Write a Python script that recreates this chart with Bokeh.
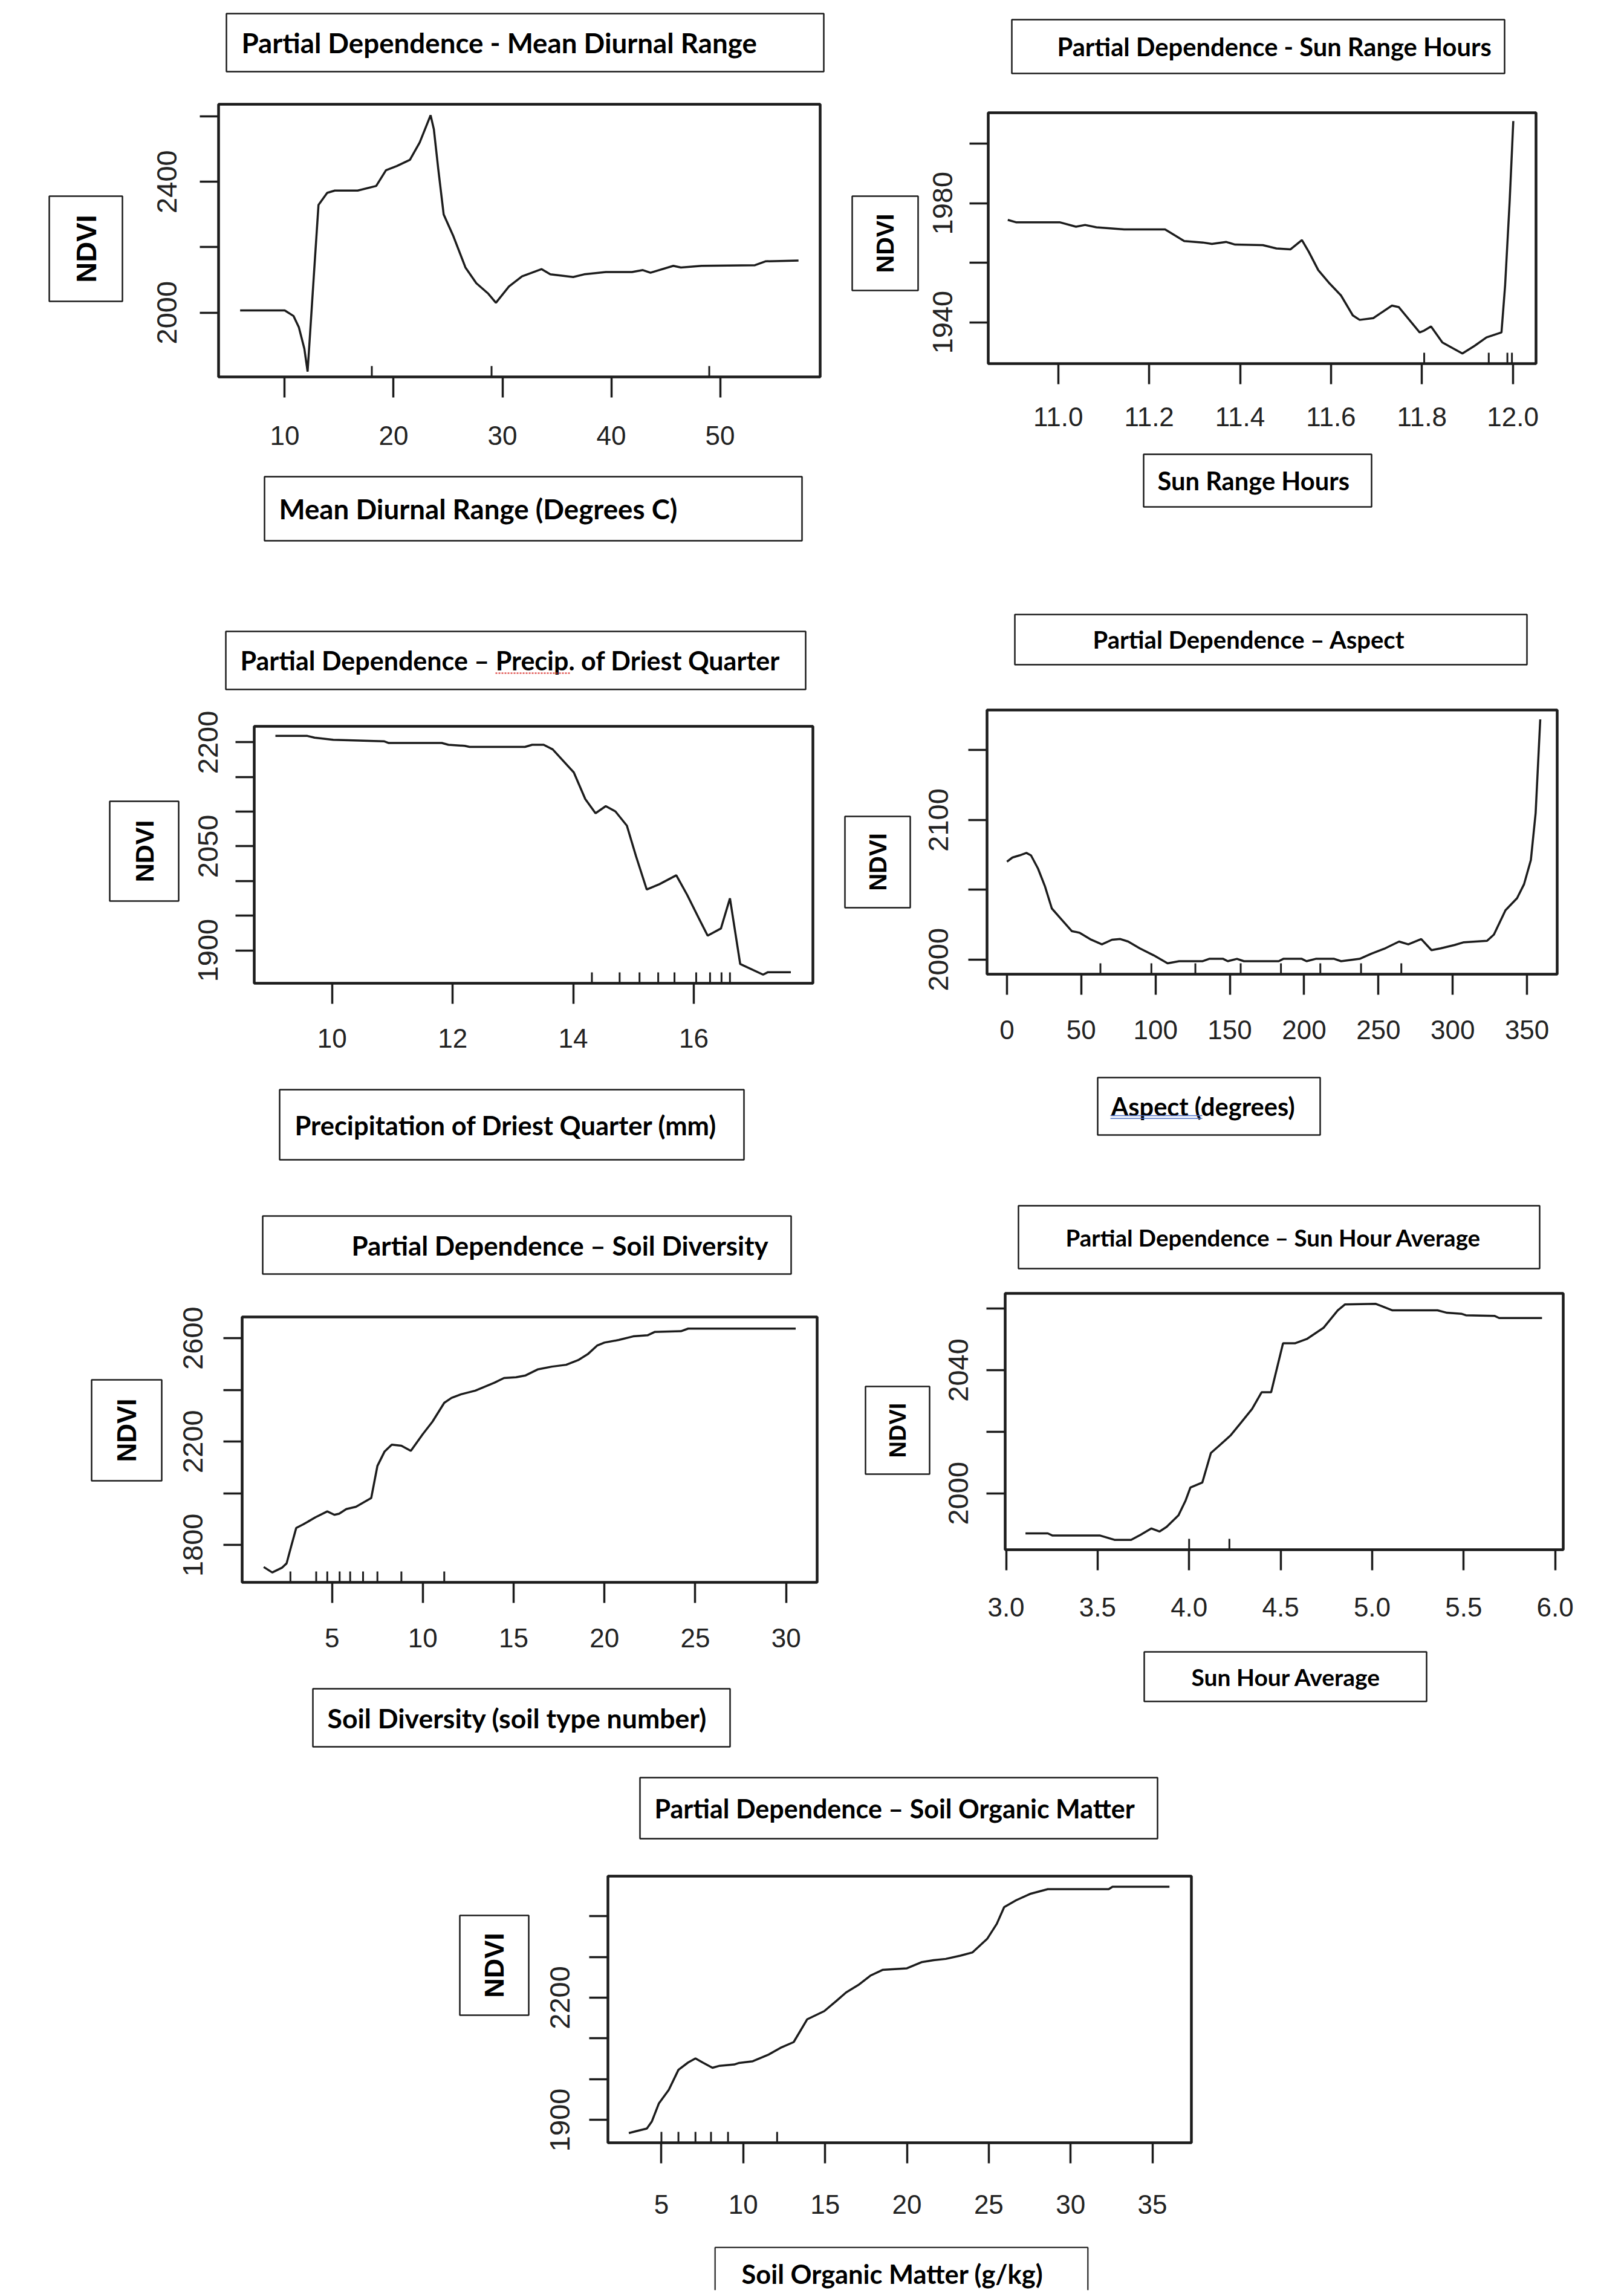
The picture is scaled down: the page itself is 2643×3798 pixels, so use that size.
import math
from bokeh.plotting import figure
from bokeh.models import Range1d, FixedTicker, Spacer, NumeralTickFormatter
from bokeh.layouts import column, row
from bokeh.embed import file_html
from bokeh.resources import INLINE
from bokeh.core.properties import value

# ---------------- data ----------------
# Panel 1: Mean Diurnal Range
mdr_x = [5.9, 10.0, 10.8, 11.3, 11.8, 12.1, 12.7, 13.1, 13.9, 14.6, 16.7, 18.4, 19.3, 20.3,
         21.5, 22.4, 23.4, 23.7, 24.1, 24.6, 25.5, 26.6, 27.6, 28.7, 29.4, 30.6, 31.8,
         33.6, 34.4, 36.5, 37.5, 39.5, 41.9, 42.9, 43.6, 45.7, 46.4, 48.3, 53.2, 54.2, 57.2]
mdr_y = [2007, 2007, 1990, 1955, 1890, 1820, 2127, 2329, 2366, 2373, 2373, 2387, 2435, 2448,
         2467, 2520, 2603, 2560, 2440, 2300, 2233, 2138, 2090, 2058, 2030, 2080, 2111,
         2133, 2117, 2109, 2117, 2124, 2124, 2130, 2122, 2143, 2138, 2143, 2145, 2157, 2159]
mdr_rug = [18.0, 29.0, 49.0]

# Panel 2: Sun Range Hours
srh_x = [10.889, 10.907, 11.003, 11.039, 11.059, 11.084, 11.145, 11.235, 11.252, 11.277,
         11.318, 11.338, 11.369, 11.389, 11.450, 11.480, 11.511, 11.536, 11.551, 11.572,
         11.597, 11.622, 11.648, 11.663, 11.693, 11.734, 11.749, 11.795, 11.805, 11.820,
         11.845, 11.889, 11.916, 11.942, 11.975, 11.983, 11.993, 12.001]
srh_y = [1974.4, 1973.6, 1973.6, 1972.1, 1972.7, 1971.9, 1971.2, 1971.2, 1969.6, 1967.3,
         1966.8, 1966.3, 1967.0, 1966.1, 1965.9, 1964.8, 1964.5, 1967.6, 1963.7, 1957.5,
         1953.0, 1949.0, 1942.3, 1940.8, 1941.4, 1945.6, 1945.1, 1936.6, 1937.2, 1938.6,
         1933.2, 1929.5, 1932.1, 1934.9, 1936.6, 1952.4, 1980.6, 2007.6]
srh_rug = [11.805, 11.947, 11.988, 11.998]

# Panel 3: Precipitation of Driest Quarter
pdq_x = [9.06, 9.59, 9.71, 10.02, 10.86, 10.94, 11.82, 11.93, 12.20, 12.28, 13.20, 13.32,
         13.51, 13.66, 14.01, 14.20, 14.37, 14.54, 14.70, 14.89, 15.04, 15.22, 15.43, 15.71,
         15.89, 16.08, 16.23, 16.45, 16.60, 16.77, 17.15, 17.23, 17.61]
pdq_y = [2209.2, 2209.2, 2206.6, 2203.6, 2201.5, 2199.0, 2199.0, 2196.4, 2194.9, 2193.4,
         2193.4, 2196.4, 2196.4, 2189.8, 2156.5, 2118.2, 2097.7, 2107.9, 2100.3, 2079.8,
         2036.3, 1987.7, 1995.4, 2008.2, 1980.0, 1946.8, 1921.2, 1931.5, 1974.9, 1880.3,
         1864.9, 1868.5, 1868.5]
pdq_rug = [14.31, 14.77, 15.10, 15.41, 15.68, 16.04, 16.27, 16.46, 16.60]

# Panel 4: Aspect
asp_x = [0, 3.7, 8.4, 13.1, 16.2, 20.9, 25.5, 30.2, 36.4, 43.6, 48.9, 56.7, 63.9, 70.7,
         76.3, 81.6, 89.4, 98.8, 108.1, 115.9, 131.5, 136.1, 145.5, 148.6, 154.8, 159.5,
         182.9, 186.0, 198.4, 201.6, 207.8, 220.2, 224.9, 237.4, 245.2, 254.5, 263.9,
         270.1, 278.8, 285.7, 291.9, 301.2, 307.5, 323.1, 327.7, 335.5, 343.3, 348.0,
         352.6, 355.8, 358.9]
asp_y = [2070.1, 2073.1, 2074.6, 2076.4, 2074.6, 2065.2, 2052.7, 2036.6, 2029.1, 2020.4,
         2019.2, 2014.2, 2010.9, 2014.2, 2014.7, 2012.9, 2008.0, 2003.0, 1997.3, 1998.8,
         1998.8, 2000.5, 2000.5, 1998.8, 2000.5, 1998.8, 1998.8, 2000.5, 2000.5, 1998.8,
         2000.5, 2000.5, 1998.8, 2000.5, 2004.2, 2008.0, 2012.9, 2010.9, 2014.7, 2006.7,
         2008.0, 2010.4, 2012.4, 2013.4, 2017.9, 2035.3, 2044.0, 2054.0, 2071.4, 2105.0,
         2172.1]
asp_rug = [62.9, 97.2, 126.8, 157.3, 184.4, 210.9, 238.3, 265.4]

# Panel 5: Soil Diversity
sdv_x = [1.24, 1.71, 2.24, 2.50, 2.76, 3.03, 3.42, 4.08, 4.74, 5.13, 5.39, 5.79, 6.32, 6.84,
         7.16, 7.50, 7.89, 8.29, 8.82, 9.34, 10.0, 10.53, 11.18, 11.58, 12.11, 12.89, 13.95,
         14.47, 15.13, 15.66, 16.32, 17.11, 17.89, 18.55, 19.08, 19.61, 20.0, 20.79, 21.58,
         22.37, 22.76, 24.21, 24.61, 30.53]
sdv_y = [1715, 1694, 1712, 1729, 1797, 1866, 1880, 1907, 1930, 1917, 1921, 1939, 1948, 1969,
         1982, 2106, 2161, 2188, 2184, 2164, 2229, 2277, 2350, 2369, 2383, 2397, 2428,
         2446, 2449, 2456, 2479, 2490, 2497, 2515, 2538, 2572, 2583, 2593, 2607,
         2611, 2624, 2627, 2637, 2637]
sdv_rug = [2.71, 4.13, 4.74, 5.42, 6.0, 6.71, 7.5, 8.82, 11.18]

# Panel 6: Sun Hour Average
sha_x = [3.106, 3.228, 3.254, 3.514, 3.592, 3.683, 3.734, 3.794, 3.838, 3.877, 3.942, 3.981,
         4.007, 4.072, 4.119, 4.163, 4.228, 4.280, 4.344, 4.396, 4.448, 4.513, 4.578, 4.643,
         4.734, 4.812, 4.851, 5.020, 5.111, 5.357, 5.409, 5.487, 5.512, 5.668, 5.694, 5.928]
sha_y = [1987.0, 1987.0, 1986.3, 1986.3, 1984.9, 1984.9, 1986.5, 1988.6, 1987.6, 1989.1,
         1992.9, 1997.7, 2001.9, 2003.5, 2013.1, 2015.4, 2018.9, 2022.7, 2027.4, 2032.8,
         2032.8, 2048.7, 2048.7, 2050.1, 2053.7, 2059.4, 2061.3, 2061.5, 2059.4, 2059.4,
         2058.6, 2058.3, 2057.8, 2057.6, 2056.9, 2056.9]
sha_rug = [4.0, 4.22]

# Panel 7: Soil Organic Matter
som_x = [3.01, 3.51, 4.11, 4.41, 4.85, 5.45, 6.04, 6.63, 7.08, 7.52, 8.12, 8.56, 9.45, 9.75,
         10.58, 11.53, 12.28, 13.08, 13.91, 14.95, 15.69, 16.29, 17.03, 17.77, 18.51, 20.0,
         20.89, 21.63, 22.37, 23.27, 24.01, 24.90, 25.49, 25.94, 26.68, 27.57, 28.61, 32.33,
         32.56, 36.04]
som_y = [1868, 1873, 1879, 1896, 1941, 1974, 2023, 2041, 2051, 2041, 2028, 2033, 2036, 2040,
         2044, 2060, 2077, 2091, 2147, 2167, 2192, 2213, 2231, 2254, 2268, 2272, 2287, 2292,
         2295, 2303, 2311, 2344, 2381, 2422, 2439, 2455, 2466, 2466, 2472, 2472]
som_rug = [5.0, 6.04, 7.08, 8.03, 9.07, 12.07]

# tick values and which y ticks carry a label
mdr_xticks = [10, 20, 30, 40, 50]
mdr_yticks = [2000, 2200, 2400, 2600]
mdr_ylab = [2000, 2400]
srh_xticks = [11.0, 11.2, 11.4, 11.6, 11.8, 12.0]
srh_yticks = [1940, 1960, 1980, 2000]
srh_ylab = [1940, 1980]
pdq_xticks = [10, 12, 14, 16]
pdq_yticks = [1900, 1950, 2000, 2050, 2100, 2150, 2200]
pdq_ylab = [1900, 2050, 2200]
asp_xticks = [0, 50, 100, 150, 200, 250, 300, 350]
asp_yticks = [2000, 2050, 2100, 2150]
asp_ylab = [2000, 2100]
sdv_xticks = [5, 10, 15, 20, 25, 30]
sdv_yticks = [1800, 2000, 2200, 2400, 2600]
sdv_ylab = [1800, 2200, 2600]
sha_xticks = [3.0, 3.5, 4.0, 4.5, 5.0, 5.5, 6.0]
sha_yticks = [2000, 2020, 2040, 2060]
sha_ylab = [2000, 2040]
som_xticks = [5, 10, 15, 20, 25, 30, 35]
som_yticks = [1900, 2000, 2100, 2200, 2300, 2400]
som_ylab = [1900, 2200]

titles = ["Partial Dependence - Mean Diurnal Range",
          "Partial Dependence - Sun Range Hours",
          "Partial Dependence \u2013 Precip. of Driest Quarter",
          "Partial Dependence \u2013 Aspect",
          "Partial Dependence \u2013 Soil Diversity",
          "Partial Dependence \u2013 Sun Hour Average",
          "Partial Dependence \u2013 Soil Organic Matter"]
xlabels = ["Mean Diurnal Range (Degrees C)",
           "Sun Range Hours",
           "Precipitation of Driest Quarter (mm)",
           "Aspect  (degrees)",
           "Soil Diversity (soil type number)",
           "Sun Hour Average",
           "Soil Organic Matter (g/kg)"]
ylabel = "NDVI"

# ---------------- style / layout ----------------
INK = "#1c1c1c"
LABEL_FONT = "Lato"
TICK_FONT = "Liberation Sans"
NDVI_FONT = "Liberation Sans"
M = 2  # margin around each boxed text so its border is fully visible


def box_fig(box, items, deco=(), open_bottom=False):
    L, T, R, B = box
    w, h = int(R - L), int(B - T)
    p = figure(width=w + 2 * M, height=h + 2 * M, x_range=Range1d(0, w), y_range=Range1d(0, h),
               min_border_left=M, min_border_right=M, min_border_top=M, min_border_bottom=M,
               x_axis_type=None, y_axis_type=None, toolbar_location=None, output_backend="svg")
    p.background_fill_color = "white"
    p.border_fill_color = "white"
    if open_bottom:
        p.outline_line_color = None
        e = 1.0
        p.segment(x0=[e, e, w - e], y0=[0, h - e, 0], x1=[e, w - e, w - e], y1=[h - e, h - e, h - e],
                  line_color=INK, line_width=2.5)
    else:
        p.outline_line_color = INK
        p.outline_line_width = 2.5
        p.outline_line_alpha = 1.0
    for (tx, ty, s, font, fs, align, angle) in items:
        p.text(x=[tx], y=[ty], text=[s], text_font=value(font),
               text_font_size=value(f"{fs}px"), text_font_style=value("bold"),
               text_align=value(align), text_baseline=value("middle"),
               text_color="black", angle=angle)
    for (x0, x1, yy, color, dash, lw) in deco:
        p.segment(x0=[x0], y0=[yy], x1=[x1], y1=[yy], line_color=color, line_width=lw,
                  line_dash=dash)
    return p, (L - M, T - M, R + M, B + M)


def plot_fig(cfg, x, y, rug, xticks, yticks, ylab):
    fL, fT, fR, fB = cfg["frame"]
    cL, cT, cR, cB = cfg["canvas"]
    p = figure(width=cR - cL, height=cB - cT,
               x_range=Range1d(*cfg["xr"]), y_range=Range1d(*cfg["yr"]),
               output_backend="svg", toolbar_location=None,
               min_border_left=fL - cL, min_border_right=cR - fR,
               min_border_top=fT - cT, min_border_bottom=cB - fB)
    p.xgrid.visible = False
    p.ygrid.visible = False
    p.outline_line_color = INK
    p.outline_line_width = 4.5
    p.outline_line_alpha = 1.0
    p.background_fill_color = "white"
    p.border_fill_color = "white"
    for ax, ticks, tick_out, stand, fs in ((p.xaxis[0], xticks, 34, cfg["xstand"], 44),
                                           (p.yaxis[0], yticks, 31, cfg["ystand"], 47)):
        ax.ticker = FixedTicker(ticks=ticks)
        ax.axis_line_color = None
        ax.major_tick_out = tick_out
        ax.major_tick_in = 0
        ax.minor_tick_out = 0
        ax.minor_tick_in = 0
        ax.major_tick_line_width = 3.5
        ax.major_tick_line_color = INK
        ax.major_label_text_font = TICK_FONT
        ax.major_label_text_font_size = f"{fs}px"
        ax.major_label_text_color = "#222222"
        ax.major_label_standoff = stand
    p.yaxis[0].major_label_orientation = "vertical"
    p.yaxis[0].major_label_overrides = {t: "" for t in yticks if t not in ylab}
    if cfg.get("xfmt"):
        p.xaxis[0].formatter = NumeralTickFormatter(format=cfg["xfmt"])
    p.line(x, y, line_color=INK, line_width=3.5)
    y0, y1 = cfg["yr"]
    rl = 18 * (y1 - y0) / (fB - fT)
    p.segment(x0=rug, y0=[y0] * len(rug), x1=rug, y1=[y0 + rl] * len(rug),
              line_color=INK, line_width=3)
    return p


def sp(w, h):
    return Spacer(width=max(0, int(w)), height=max(0, int(h)))


def build_cell(cfg, series, title, xlabel):
    cx0, cy0, cx1, cy1 = cfg["cell"]
    th = cfg["tbox"][3] - cfg["tbox"][1]
    tfig, (tl, tt, tr, tb) = box_fig(cfg["tbox"], [(cfg["tpad"], th / 2, title, LABEL_FONT,
                                                    cfg["tfs"], "left", 0)],
                                     cfg.get("tdeco", ()))
    nL, nT, nR, nB = cfg["nbox"]
    nfig, (nl, nt, nr, nb) = box_fig(cfg["nbox"], [((nR - nL) / 2, (nB - nT) / 2, ylabel,
                                                    NDVI_FONT, cfg["nfs"], "center", math.pi / 2)])
    xh = cfg["xbox"][3] - cfg["xbox"][1]
    xfig, (xl, xt, xr, xb) = box_fig(cfg["xbox"], [(cfg["xpad"], xh - cfg.get("xtop", xh / 2),
                                                    xlabel, LABEL_FONT, cfg["xfs"], "left", 0)],
                                     cfg.get("xdeco", ()), cfg.get("open_bottom", False))
    pfig = plot_fig(cfg, *series)
    cL, cT, cR, cB = cfg["canvas"]
    W = cx1 - cx0
    kids = [sp(W, tt - cy0),
            row(sp(tl - cx0, 1), tfig),
            sp(1, cT - tb),
            row(sp(nl - cx0, 1), column(sp(1, nt - cT), nfig), sp(cL - nr, 1), pfig),
            sp(1, xt - cB),
            row(sp(xl - cx0, 1), xfig)]
    if cy1 - xb > 0:
        kids.append(sp(1, cy1 - xb))
    return column(*kids)


cfgs = [
    dict(cell=(0, 0, 1390, 980), tbox=(374, 22, 1362, 118), nbox=(81, 324, 202, 498),
         xbox=(437, 788, 1326, 894), frame=(361, 172, 1356, 623), canvas=(210, 122, 1385, 784),
         xr=(3.92, 59.19), yr=(1803.7, 2636.6), xstand=47, ystand=38,
         tpad=25, tfs=45.7, nfs=47, xpad=24, xfs=45.7),
    dict(cell=(1390, 0, 2627, 980), tbox=(1673, 32, 2488, 121), nbox=(1409, 324, 1518, 480),
         xbox=(1891, 751, 2268, 838), frame=(1634, 186, 2540, 601), canvas=(1520, 125, 2600, 747),
         xr=(10.846, 12.051), yr=(1926.1, 2010.4), xstand=38, ystand=28, xfmt="0.0",
         tpad=75, tfs=41.7, nfs=41, xpad=23, xfs=41.7),
    dict(cell=(0, 980, 1390, 1960), tbox=(373, 1044, 1332, 1140), nbox=(181, 1325, 295, 1490),
         xbox=(462, 1802, 1230, 1918), frame=(420, 1201, 1344, 1626), canvas=(300, 1144, 1380, 1798),
         xr=(8.709, 17.976), yr=(1852.5, 2223.0), xstand=41, ystand=29,
         tpad=24, tfs=43, nfs=43, xpad=25, xfs=43.5,
         tdeco=[(446, 569, 27, "#d9302c", "3 2", 2)]),
    dict(cell=(1390, 980, 2627, 1960), tbox=(1678, 1016, 2525, 1099), nbox=(1397, 1350, 1505, 1501),
         xbox=(1815, 1782, 2183, 1877), frame=(1632, 1174, 2575, 1611), canvas=(1510, 1103, 2620, 1778),
         xr=(-13.4, 370.3), yr=(1989.5, 2178.8), xstand=42, ystand=33,
         tpad=129, tfs=40, nfs=40, xpad=22, xfs=41.5,
         xdeco=[(21, 173, 32, "#4a6fc9", "solid", 1.5), (21, 173, 27.5, "#4a6fc9", "solid", 1.5)]),
    dict(cell=(0, 1960, 1390, 2900), tbox=(434, 2011, 1308, 2107), nbox=(151, 2282, 267, 2449),
         xbox=(517, 2793, 1207, 2889), frame=(400, 2178, 1351, 2617), canvas=(272, 2111, 1380, 2789),
         xr=(0.053, 31.71), yr=(1655.7, 2682.0), xstand=42, ystand=34,
         tpad=147, tfs=43.9, nfs=44, xpad=24, xfs=44.6),
    dict(cell=(1390, 1960, 2627, 2900), tbox=(1684, 1994, 2546, 2098), nbox=(1431, 2293, 1537, 2438),
         xbox=(1892, 2732, 2359, 2814), frame=(1662, 2139, 2585, 2563), canvas=(1542, 2102, 2620, 2728),
         xr=(2.995, 6.044), yr=(1981.7, 2064.9), xstand=45, ystand=30, xfmt="0.0",
         tpad=78, tfs=38.5, nfs=38, xpad=78, xfs=39),
    dict(cell=(0, 2900, 2627, 3790), tbox=(1058, 2940, 1914, 3041), nbox=(760, 3168, 874, 3333),
         xbox=(1181, 3716, 1800, 3788), frame=(1005, 3103, 1970, 3544), canvas=(880, 3045, 2000, 3712),
         xr=(1.733, 37.38), yr=(1844.2, 2497.9), xstand=52, ystand=32,
         tpad=24, tfs=43, nfs=45, xpad=45, xfs=43.4, xtop=44, open_bottom=True),
]

series = [(mdr_x, mdr_y, mdr_rug, mdr_xticks, mdr_yticks, mdr_ylab),
          (srh_x, srh_y, srh_rug, srh_xticks, srh_yticks, srh_ylab),
          (pdq_x, pdq_y, pdq_rug, pdq_xticks, pdq_yticks, pdq_ylab),
          (asp_x, asp_y, asp_rug, asp_xticks, asp_yticks, asp_ylab),
          (sdv_x, sdv_y, sdv_rug, sdv_xticks, sdv_yticks, sdv_ylab),
          (sha_x, sha_y, sha_rug, sha_xticks, sha_yticks, sha_ylab),
          (som_x, som_y, som_rug, som_xticks, som_yticks, som_ylab)]

cells = [build_cell(c, s, t, xl) for c, s, t, xl in zip(cfgs, series, titles, xlabels)]

layout = column(
    row(cells[0], cells[1]),
    row(cells[2], cells[3]),
    row(cells[4], cells[5]),
    cells[6],
)

open("out.html", "w").write(file_html(layout, INLINE))
